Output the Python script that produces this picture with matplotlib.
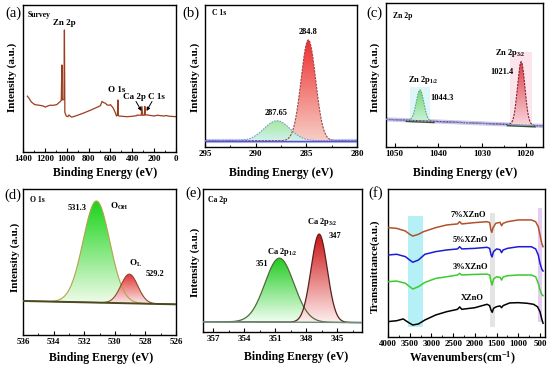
import numpy as np
import matplotlib
matplotlib.use('Agg')
import matplotlib.pyplot as plt
from matplotlib.colors import LinearSegmentedColormap
from matplotlib.ticker import MultipleLocator, NullLocator
from matplotlib.patches import FancyArrowPatch

plt.rcParams['font.family'] = ['Liberation Serif', 'DejaVu Serif']
plt.rcParams['font.weight'] = 'bold'
plt.rcParams['mathtext.fontset'] = 'custom'
plt.rcParams['mathtext.rm'] = 'Liberation Serif:bold'
plt.rcParams['mathtext.it'] = 'Liberation Serif:bold'
plt.rcParams['mathtext.bf'] = 'Liberation Serif:bold'
plt.rcParams['mathtext.default'] = 'rm'

# ---------------- data ----------------
# (a) survey spectrum (binding energy, normalised intensity)
survey_be = [1360, 1345, 1323, 1292, 1250, 1215, 1195, 1185, 1154, 1120, 1092, 1061, 1050,
             1044, 1040, 1031, 1025, 1021, 1017, 1005, 990, 980, 970, 954, 900, 846, 780,
             720, 692, 677, 660, 646, 631, 615, 600, 575, 554, 545, 536, 532, 528, 523,
             480, 446, 400, 360, 354, 345, 318, 312, 306, 290, 285, 280, 262, 230, 200,
             169, 140, 108, 90, 60, 30, 0]
survey_int = [0.38, 0.365, 0.34, 0.322, 0.318, 0.313, 0.305, 0.31, 0.318, 0.318, 0.322, 0.342, 0.35,
              0.592, 0.355, 0.355, 0.36, 0.83, 0.27, 0.245, 0.24, 0.252, 0.245, 0.237, 0.25, 0.265, 0.285,
              0.305, 0.315, 0.344, 0.335, 0.332, 0.32, 0.318, 0.322, 0.30, 0.265, 0.245, 0.25, 0.354, 0.248, 0.245,
              0.242, 0.24, 0.243, 0.247, 0.252, 0.25, 0.25, 0.31, 0.25, 0.25, 0.31, 0.252, 0.252, 0.248, 0.245,
              0.25, 0.247, 0.245, 0.248, 0.243, 0.242, 0.24]

# (b) C 1s fit components
c1s_center = [284.8, 287.9]
c1s_height = [0.71, 0.141]
c1s_fwhm = [1.7, 3.0]
c1s_base = [0.044, 0.044]          # baseline at 295 and 280 eV

# (c) Zn 2p fit components
zn_center = [1044.2, 1021.0]
zn_height = [0.214, 0.44]
zn_fwhm = [2.0, 2.0]
zn_base = [0.192, 0.146]           # background at 1052 and 1016 eV

# (d) O 1s fit components
o1s_center = [531.2, 529.05]
o1s_height = [0.696, 0.2]
o1s_fwhm = [2.05, 1.3]
o1s_base = [0.233, 0.21]           # baseline at 536 and 526 eV

# (e) Ca 2p fit components
ca_center = [350.6, 346.75]
ca_height = [0.447, 0.617]
ca_fwhm = [3.3, 1.85]
ca_base = [0.072, 0.066]           # baseline at 358 and 342.6 eV

# (f) FTIR spectra
ftir_names = ['7%XZnO', '5%XZnO', '3%XZnO', 'XZnO']
wn_7 = [4000, 3800, 3600, 3500, 3430, 3300, 3180, 2900, 2650, 2400, 2350, 2300, 2000, 1720, 1660,
        1630, 1610, 1580, 1520, 1420, 1385, 1350, 1250, 1000, 700, 600, 540, 500, 460, 430]
tr_7 = [0.739, 0.734, 0.716, 0.694, 0.682, 0.694, 0.712, 0.739, 0.757, 0.764, 0.779, 0.764, 0.773,
        0.779, 0.773, 0.723, 0.707, 0.739, 0.768, 0.775, 0.752, 0.768, 0.779, 0.791, 0.791, 0.779,
        0.745, 0.689, 0.633, 0.61]
wn_5 = [4000, 3800, 3600, 3500, 3430, 3300, 3150, 2900, 2650, 2400, 2350, 2300, 2000, 1720, 1660,
        1630, 1605, 1570, 1500, 1420, 1385, 1350, 1250, 1000, 700, 600, 540, 500, 460, 430]
tr_5 = [0.554, 0.559, 0.543, 0.52, 0.505, 0.52, 0.559, 0.577, 0.588, 0.595, 0.61, 0.595, 0.599,
        0.606, 0.599, 0.559, 0.541, 0.577, 0.595, 0.59, 0.57, 0.588, 0.599, 0.61, 0.61, 0.595,
        0.554, 0.498, 0.459, 0.446]
wn_3 = [4000, 3800, 3600, 3500, 3430, 3300, 3150, 2900, 2650, 2400, 2350, 2300, 2000, 1720, 1660,
        1630, 1605, 1570, 1500, 1420, 1385, 1350, 1250, 1000, 700, 600, 540, 500, 460, 430]
tr_3 = [0.374, 0.378, 0.363, 0.34, 0.324, 0.34, 0.369, 0.396, 0.407, 0.419, 0.43, 0.419, 0.423,
        0.425, 0.419, 0.378, 0.351, 0.392, 0.407, 0.403, 0.385, 0.405, 0.414, 0.419, 0.419, 0.407,
        0.363, 0.318, 0.288, 0.279]
wn_0 = [4000, 3800, 3650, 3580, 3500, 3430, 3300, 3150, 2900, 2650, 2400, 2350, 2300, 2000, 1720,
        1660, 1630, 1600, 1570, 1500, 1420, 1385, 1350, 1200, 1000, 800, 650, 560, 500, 460, 430]
tr_0 = [0.104, 0.11, 0.122, 0.108, 0.093, 0.081, 0.088, 0.115, 0.149, 0.171, 0.187, 0.203, 0.187,
        0.198, 0.221, 0.212, 0.183, 0.167, 0.194, 0.205, 0.21, 0.198, 0.212, 0.23, 0.232, 0.228,
        0.221, 0.205, 0.171, 0.122, 0.093]
ftir_colors = ['#B0522A', '#1C1CD6', '#3CCB2C', '#000000']
band_lo = [3200, 1535, 455]
band_hi = [3530, 1660, 540]

# ---------------- figure ----------------
W, H = 550, 367
fig = plt.figure(figsize=(5.5, 3.67), dpi=100)


def make_ax(l, r, t, b):
    return fig.add_axes([l / W, 1 - b / H, (r - l) / W, (b - t) / H])


def F(x, y):
    return (x / W, 1 - y / H)


def ftext(x, y, s, size=6.5, ha='center', va='center', weight='bold', **kw):
    fig.text(x / W, 1 - y / H, s, ha=ha, va=va, fontsize=size, fontweight=weight, **kw)


def gauss(x, c, h, fwhm):
    s = fwhm / 2.3548
    return h * np.exp(-0.5 * ((x - c) / s) ** 2)


def grad_fill(ax, x, ylow, yhigh, c_bot, c_top, z):
    coll = ax.fill_between(x, ylow, yhigh, facecolor='none', edgecolor='none')
    path = coll.get_paths()[0]
    cmap = LinearSegmentedColormap.from_list('g', [c_bot, c_top])
    y0 = float(np.min(ylow))
    y1 = float(np.max(yhigh))
    img = np.linspace(0, 1, 256).reshape(-1, 1)
    im = ax.imshow(img, extent=[x.min(), x.max(), y0, y1], origin='lower', aspect='auto',
                   cmap=cmap, zorder=z, interpolation='bilinear')
    im.set_clip_path(path, transform=ax.transData)


def style(ax, xlim, major, minor):
    ax.set_xlim(*xlim)
    ax.set_ylim(0, 1)
    ax.xaxis.set_major_locator(MultipleLocator(major))
    ax.xaxis.set_minor_locator(MultipleLocator(minor))
    ax.yaxis.set_major_locator(NullLocator())
    ax.tick_params(axis='x', which='major', direction='in', length=3, width=0.8,
                   labelsize=6.5, pad=2.5)
    ax.tick_params(axis='x', which='minor', direction='in', length=1.5, width=0.6)
    for s in ax.spines.values():
        s.set_linewidth(1.0)


def base_line(x, xlim, b):
    return b[0] + (b[1] - b[0]) * (x - xlim[0]) / (xlim[1] - xlim[0])


# ----- (a) Survey -----
axa = make_ax(23, 176, 5, 152)
axa.plot(survey_be, survey_int, color='#9C3D1F', lw=0.9)
style(axa, (1400, 0), 200, 100)
ftext(28, 15, 'Survey', size=5.5, ha='left')
ftext(64, 23, 'Zn 2p', size=6.5)
ftext(117, 90, 'O 1s', size=6.5)
ftext(134, 97, 'Ca 2p', size=6.5)
ftext(156, 97, 'C 1s', size=6.5)
for (p0, p1) in [((136, 101.5), (141.5, 111)), ((152, 101.5), (146.5, 111))]:
    fig.add_artist(FancyArrowPatch(F(*p0), F(*p1), transform=fig.transFigure,
                                   arrowstyle='-|>', mutation_scale=5, lw=0.7, color='k',
                                   shrinkA=0, shrinkB=0))

# ----- (b) C 1s -----
xlb = (295, 280)
axb = make_ax(205, 357, 5, 147)
xb = np.linspace(295, 280, 600)
bb = base_line(xb, xlb, c1s_base)
axb.plot(xb, bb, color='#B8C8F4', lw=3.0, zorder=1)
yr = bb + gauss(xb, c1s_center[0], c1s_height[0], c1s_fwhm[0])
yg = bb + gauss(xb, c1s_center[1], c1s_height[1], c1s_fwhm[1])
grad_fill(axb, xb, bb, yr, '#F6CFC6', '#EE3030', 2)
grad_fill(axb, xb, bb, yg, '#CFF2F0', '#A6E89A', 3)
axb.plot(xb, yr, color='#9A4A4A', lw=0.8, ls=(0, (2, 1)), zorder=4)
axb.plot(xb, yg, color='#8098DA', lw=0.8, ls=(0, (1.5, 1)), zorder=4)
axb.plot(xb, bb, color='#5A4FC8', lw=1.0, zorder=5)
style(axb, xlb, 5, 2.5)
ftext(212, 13, 'C 1s', size=5.5, ha='left')
ftext(308, 32, '284.8', size=6)
ftext(276, 113, '287.65', size=6)

# ----- (c) Zn 2p -----
xlc = (1052, 1016)
axc = make_ax(386, 543, 3, 147)
xc = np.linspace(1052, 1016, 800)
bc = base_line(xc, xlc, zn_base)
axc.axvspan(1046.5, 1042.0, ymin=0.17, ymax=0.42, color='#DDF6F8', zorder=0, lw=0)
axc.axvspan(1023.5, 1018.5, ymin=0.15, ymax=0.66, color='#FCE4EC', zorder=0, lw=0)
axc.plot(xc, bc, color='#C8C8F2', lw=3.0, zorder=1)
yg = bc + gauss(xc, zn_center[0], zn_height[0], zn_fwhm[0])
yr = bc + gauss(xc, zn_center[1], zn_height[1], zn_fwhm[1])
grad_fill(axc, xc, bc, yg, '#D8F5E8', '#70D870', 2)
grad_fill(axc, xc, bc, yr, '#F8D8DC', '#E03A4A', 2)
axc.plot(xc, yg, color='#6C9C8C', lw=0.8, ls=(0, (1.5, 1)), zorder=4)
axc.plot(xc, yr, color='#7A2A2A', lw=0.8, ls=(0, (2, 1)), zorder=4)
for cc in zn_center:
    m = np.abs(xc - cc) < 3.2
    axc.plot(xc[m], bc[m] - 0.008, color='#335522', lw=1.0, zorder=5)
axc.plot(xc, bc, color='#8A8AD8', lw=1.0, ls=(0, (1.5, 1)), zorder=5)
style(axc, xlc, 10, 5)
ftext(393, 16, 'Zn 2p', size=5.5, ha='left')
ftext(423, 80, 'Zn 2p$_{1/2}$', size=6)
ftext(442, 98, '1044.3', size=6)
ftext(510, 53, 'Zn 2p$_{3/2}$', size=6)
ftext(502, 72, '1021.4', size=6)

# ----- (d) O 1s -----
xld = (536, 526)
axd = make_ax(23, 176, 189, 335)
xd = np.linspace(536, 526, 600)
bd = base_line(xd, xld, o1s_base)
yg = bd + gauss(xd, o1s_center[0], o1s_height[0], o1s_fwhm[0])
yr = bd + gauss(xd, o1s_center[1], o1s_height[1], o1s_fwhm[1])
grad_fill(axd, xd, bd, yg, '#F2FCEB', '#18D418', 2)
grad_fill(axd, xd, bd, yr, '#FBECEC', '#E42E2E', 3)
axd.plot(xd, yg, color='#B5A24A', lw=0.8, zorder=4)
axd.plot(xd, yr, color='#8B4A2B', lw=0.8, zorder=4)
axd.plot(xd, bd, color='#4A4A1E', lw=1.4, zorder=5)
style(axd, xld, 2, 1)
ftext(30, 200, 'O 1s', size=5.5, ha='left')
ftext(77, 208, '531.3', size=6)
ftext(119, 206, 'O$_{OH}$', size=6.5)
ftext(135, 263, 'O$_{L}$', size=6.5)
ftext(155, 274, '529.2', size=6)

# ----- (e) Ca 2p -----
xle = (358, 342.6)
axe = make_ax(203, 362, 189, 332)
xe = np.linspace(358, 342.6, 600)
be = base_line(xe, xle, ca_base)
yg = be + gauss(xe, ca_center[0], ca_height[0], ca_fwhm[0])
yr = be + gauss(xe, ca_center[1], ca_height[1], ca_fwhm[1])
grad_fill(axe, xe, be, yg, '#F4FFF4', '#22CC22', 2)
grad_fill(axe, xe, be, yr, '#FFF0F0', '#CC1414', 3)
axe.plot(xe, yg, color='#4F6B3A', lw=0.9, zorder=4)
axe.plot(xe, yr, color='#5A1F1F', lw=0.9, zorder=4)
axe.plot(xe, be, color='#6B8E7F', lw=1.0, zorder=5)
style(axe, xle, 3, 1.5)
ftext(208, 200, 'Ca 2p', size=5.5, ha='left')
ftext(282, 252, 'Ca 2p$_{1/2}$', size=6)
ftext(262, 264, '351', size=6)
ftext(322, 222, 'Ca 2p$_{3/2}$', size=6)
ftext(335, 236, '347', size=6)

# ----- (f) FTIR -----
axf = make_ax(388, 545, 189, 337)
band_col = ['#B4F0F6', '#E4E4E4', '#E6CCF2']
band_y = [(0.07, 0.82), (0.07, 0.835), (0.10, 0.875)]
for lo, hi, c, (y0, y1) in zip(band_lo, band_hi, band_col, band_y):
    axf.axvspan(hi, lo, ymin=y0, ymax=y1, color=c, lw=0, zorder=0)
for wn, tr, c in zip([wn_7, wn_5, wn_3, wn_0], [tr_7, tr_5, tr_3, tr_0], ftir_colors):
    axf.plot(wn, tr, color=c, lw=1.1, zorder=3)
style(axf, (4000, 385), 500, 250)
ftext(468, 215, ftir_names[0], size=6)
ftext(470, 240, ftir_names[1], size=6)
ftext(470, 267, ftir_names[2], size=6)
ftext(472, 298, ftir_names[3], size=6)

# ----- labels -----
for (x, y) in [(105, 173), (281, 173), (465, 173), (101, 358), (296, 357)]:
    ftext(x, y, 'Binding Energy (eV)', size=8.5)
ftext(462, 358, 'Wavenumbers(cm$^{-1}$)', size=8.5)
for (x, y) in [(12, 77), (195, 77), (375, 77), (15, 257), (195, 262)]:
    ftext(x, y, 'Intensity (a.u.)', size=8, rotation=90)
ftext(375, 266, 'Transmittance(a.u.)', size=8, rotation=90)
for (x, y, s) in [(13, 13, '(a)'), (191, 13, '(b)'), (374, 13, '(c)'),
                  (13, 195, '(d)'), (193, 193, '(e)'), (376, 193, '(f)')]:
    ftext(x, y, s, size=10.5, weight='normal')

fig.savefig('out.png', dpi=100)
